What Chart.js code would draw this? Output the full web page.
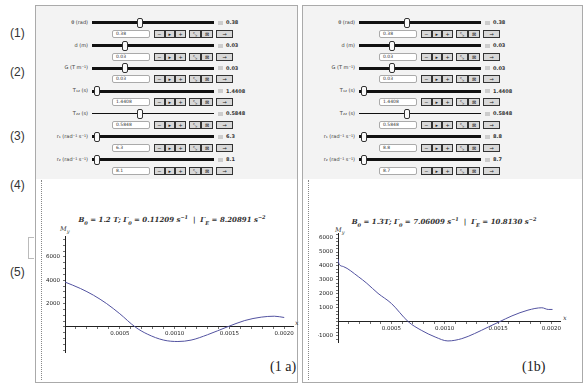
<!DOCTYPE html>
<html>
<head>
<meta charset="utf-8">
<script src="https://cdn.jsdelivr.net/npm/chart.js@4.4.1/dist/chart.umd.min.js"></script>
<style>
  body { margin: 0; width: 584px; height: 384px; background: #fff; position: relative; overflow: hidden; font-family: "DejaVu Sans", sans-serif; }
  .abs { position: absolute; }
  .panel { position: absolute; border: 1px solid #aaa; background: #fff; box-sizing: border-box; }
  .controls { position: absolute; left: 0; top: 0; right: 0; height: 173px; background: #f3f3f3; }
  .lab { position: absolute; font-size: 5px; color: #333; text-align: right; width: 52px; left: 0; white-space: nowrap; }
  .track { position: absolute; background: #111; }
  .thumb { position: absolute; width: 6px; height: 10px; border: 1px solid #333; border-radius: 2px; background: #fafafa; box-sizing: border-box; }
  .vbox { position: absolute; width: 5px; height: 4px; background: #ccc; }
  .vtxt { position: absolute; font-size: 5px; font-weight: bold; color: #333; }
  .inp { position: absolute; width: 38px; height: 8px; border: 1px solid #aaa; border-radius: 2px; background: #fff; box-sizing: border-box; font-size: 4.5px; line-height: 6px; padding-left: 3px; color: #333; }
  .btn { position: absolute; height: 8px; border: 1px solid #333; background: #d8d8d8; box-sizing: border-box; font-size: 5px; line-height: 6px; text-align: center; color: #222; }
  .num { position: absolute; font-family: "Liberation Sans", sans-serif; font-size: 12px; color: #333; }
  .ttl { position: absolute; font-family: "DejaVu Serif", serif; font-style: italic; font-size: 7px; font-weight: bold; color: #333; white-space: nowrap; transform: translateX(-50%); }
  .ttl sub, .ttl sup { font-size: 5px; }
  .axl { position: absolute; font-family: "DejaVu Serif", serif; font-style: italic; font-size: 6.5px; color: #333; }
  .tag { position: absolute; font-family: "Liberation Serif", serif; font-size: 14px; color: #222; }
  canvas { position: absolute; }
</style>
</head>
<body>
<div class="num" style="left:10px;top:26px">(1)</div>
<div class="num" style="left:10px;top:65px">(2)</div>
<div class="num" style="left:10px;top:129px">(3)</div>
<div class="num" style="left:10px;top:178px">(4)</div>
<div class="num" style="left:10px;top:265px">(5)</div>
<div class="abs" style="left:28px;top:237px;width:5px;height:20px;border:1px solid #bbb;border-right:none"></div>

<div class="panel" id="leftPanel" style="left:35px;top:5px;width:263px;height:378px">
  <div class="controls" id="leftControls"></div>
  <div class="abs" style="left:5px;top:174px;bottom:2px;border-left:1px dotted #888"></div>
</div>
<div class="panel" id="rightPanel" style="left:302px;top:5px;width:281px;height:378px">
  <div class="controls" id="rightControls"></div>
  <div class="abs" style="left:5px;top:174px;bottom:2px;border-left:1px dotted #888"></div>
</div>

<div class="ttl" style="left:172px;top:214px">B<sub>0</sub> = 1.2 T; Γ<sub>0</sub> = 0.11209 s<sup>−1</sup> &nbsp;|&nbsp; Γ<sub>E</sub> = 8.20891 s<sup>−2</sup></div>
<div class="ttl" style="left:444px;top:216px">B<sub>0</sub> = 1.3T; Γ<sub>0</sub> = 7.06009 s<sup>−1</sup> &nbsp;|&nbsp; Γ<sub>E</sub> = 10.8130 s<sup>−2</sup></div>
<div class="axl" style="left:60px;top:225px">M<sub style="font-size:5px">y</sub></div>
<div class="axl" style="left:335px;top:226px">M<sub style="font-size:5px">y</sub></div>
<div class="axl" style="left:295px;top:319px">x</div>
<div class="axl" style="left:563px;top:314px">x</div>
<div class="tag" style="left:270px;top:359px">(1 a)</div>
<div class="tag" style="left:522px;top:359px">(1b)</div>

<canvas id="chartA" width="259" height="208" style="left:37px;top:174px"></canvas>
<canvas id="chartB" width="282" height="208" style="left:300px;top:174px"></canvas>

<script>
// manipulate controls
const rowLabels = ["θ (rad)", "d (m)", "G (T m⁻¹)", "T₁₂ (s)", "T₂₂ (s)", "r₁ (rad⁻¹ s⁻¹)", "r₂ (rad⁻¹ s⁻¹)"];
const leftValues = ["0.38", "0.03", "0.03", "1.4408", "0.5848", "6.3", "8.1"];
const rightValues = ["0.38", "0.03", "0.03", "1.4408", "0.5848", "8.8", "8.7"];
const sliderPos = [0.39, 0.27, 0.27, 0.04, 0.39, 0.04, 0.04];

// plot (1a)
const xA = [0, 0.00014, 0.00026, 0.00038, 0.0005, 0.00064, 0.00075, 0.0009, 0.00103, 0.00115, 0.0013, 0.00148, 0.00164, 0.00179, 0.00191, 0.002];
const yA = [3850, 3300, 2720, 2000, 1130, 0, -610, -1130, -1250, -1130, -670, 0, 550, 840, 920, 810];
const yTicksA = [2000, 4000, 6000];
// plot (1b)
const xB = [0, 0.00001, 0.00005, 0.00019, 0.00027, 0.000375, 0.0005, 0.00066, 0.00078, 0.00091, 0.00103, 0.00116, 0.00128, 0.00141, 0.00151, 0.00163, 0.00178, 0.00191, 0.00197, 0.00201];
const yB = [4490, 4130, 3960, 3240, 2760, 2040, 1320, 0, -600, -1080, -1365, -1200, -835, -360, 0, 430, 840, 1010, 890, 890];
const yTicksB = [-1000, 1000, 2000, 3000, 4000, 5000, 6000];

const xTicks = [0.0005, 0.001, 0.0015, 0.002];

function el(parent, cls, style, text) {
    const d = document.createElement("div");
    d.className = cls;
    Object.assign(d.style, style);
    if (text) d.textContent = text;
    parent.appendChild(d);
    return d;
}

function buildControls(box, values) {
    const btnLeft = [118, 128.5, 139, 153, 165, 180];
    const btnW = [10.5, 10.5, 11, 12, 12, 17];
    const btnTxt = ["−", "▸", "+", "⤡", "⊠", "→"];
    rowLabels.forEach(function (lab, i) {
        const y = 16.7 + 22.8 * i;
        const thin = i === 4;
        el(box, "lab", { top: (y - 4) + "px" }, lab);
        el(box, "track", { left: "56px", width: "122px", top: (y - (thin ? 0.5 : 1.5)) + "px", height: (thin ? 1 : 3) + "px" });
        el(box, "thumb", { left: (56 + sliderPos[i] * 122 - 3) + "px", top: (y - 5) + "px" });
        el(box, "vbox", { left: "182px", top: (y - 2) + "px" });
        el(box, "vtxt", { left: "190px", top: (y - 3.5) + "px" }, values[i]);
        el(box, "inp", { left: "76px", top: (y + 7) + "px" }, values[i]);
        btnLeft.forEach(function (bx, j) {
            el(box, "btn", { left: bx + "px", width: btnW[j] + "px", top: (y + 7) + "px" }, btnTxt[j]);
        });
    });
}

buildControls(document.getElementById("leftControls"), leftValues);
buildControls(document.getElementById("rightControls"), rightValues);

// minor ticks on multiples of step (Chart.js would otherwise spread them evenly from min to max)
function stepTicks(step) {
    return function (scale) {
        const t = [];
        for (let k = Math.ceil(scale.min / step - 1e-9); k * step <= scale.max + 1e-12; k++) {
            t.push({ value: Number((k * step).toPrecision(10)) });
        }
        scale.ticks = t;
    };
}

// label only the values listed in the tick array
function labelOnly(list, fmt) {
    return function (v) {
        const hit = list.find(function (m) { return Math.abs(m - v) < 1e-9 * Math.max(1, Math.abs(m)); });
        return hit === undefined ? "" : fmt(hit);
    };
}

function axisOpts(min, max, step, labelFn, pos, pad) {
    return {
        type: "linear",
        min: min,
        max: max,
        position: pos,
        afterBuildTicks: stepTicks(step),
        grid: { drawOnChartArea: false, tickLength: 2, color: "#333", tickWidth: 0.7 },
        border: { color: "#222", width: 1 },
        ticks: {
            autoSkip: false,
            maxRotation: 0,
            padding: pad,
            color: "#222",
            font: { size: 5.5, family: "DejaVu Sans" },
            callback: labelFn
        }
    };
}

function makeChart(id, xs, ys, yMin, yMax, yStep, yLabels, pad) {
    const pts = xs.map(function (x, i) { return { x: x, y: ys[i] }; });
    const yAxis = axisOpts(yMin, yMax, yStep, labelOnly(yLabels, String), "left", 3);
    yAxis.afterFit = function (scale) { scale.width = 20; };
    const xAxis = axisOpts(0, 0.00208, 0.0001, labelOnly(xTicks, function (v) { return v.toFixed(4); }), { y: 0 }, 1);
    return new Chart(document.getElementById(id).getContext("2d"), {
        type: "line",
        data: {
            datasets: [{
                data: pts,
                borderColor: "#5252a0",
                borderWidth: 1,
                pointRadius: 0,
                cubicInterpolationMode: "monotone",
                fill: false
            }]
        },
        options: {
            responsive: false,
            animation: false,
            layout: { padding: pad },
            plugins: { legend: { display: false }, tooltip: { enabled: false }, title: { display: false } },
            scales: { x: xAxis, y: yAxis }
        }
    });
}

makeChart("chartA", xA, yA, -2150, 7800, 500, yTicksA, { left: 8, right: 3, top: 62, bottom: 30 });
makeChart("chartB", xB, yB, -1440, 6360, 250, yTicksB, { left: 18, right: 22, top: 59, bottom: 40 });
</script>
</body>
</html>
